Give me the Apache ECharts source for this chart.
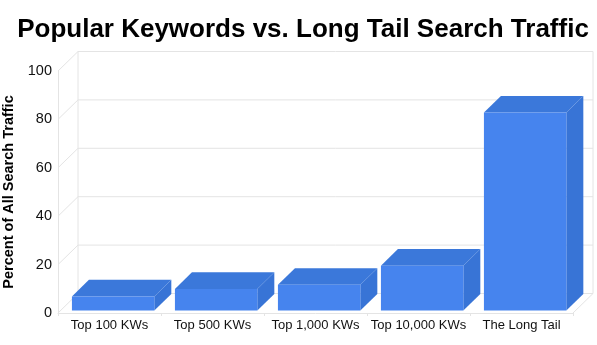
<!DOCTYPE html>
<html><head><meta charset="utf-8">
<script src="https://cdn.jsdelivr.net/npm/echarts@6/dist/echarts.min.js"></script>
<style>html,body{margin:0;padding:0;background:#fff}#c{width:597px;height:345px}</style>
</head><body><div id="c"></div>
<script>
const categories = ['Top 100 KWs', 'Top 500 KWs', 'Top 1,000 KWs', 'Top 10,000 KWs', 'The Long Tail'];
const values = [5.8, 8.9, 10.6, 18.5, 81.8];
const yTicks = [0, 20, 40, 60, 80, 100];
const titleText = 'Popular Keywords vs. Long Tail Search Traffic';
const yName = 'Percent of All Search Traffic';

const DX = 20, DY = -19.5;      // depth offset of back wall
const F1 = 0.13, F2 = 0.98;     // bar depth (front/back fractions)
const WALL = '#e4e4e4';
const FRONT = '#4684ee', TOP = '#3b78da', SIDE = '#3874d6';
const FONT = '"Liberation Sans", Arial, sans-serif';

const chart = echarts.init(document.getElementById('c'), null, {renderer: 'canvas'});

function wallsRender(params, api) {
  const n = categories.length;
  const bw = api.size([1, 0])[0];
  const x0 = api.coord([0, 0])[0] - bw / 2;
  const x1 = api.coord([n - 1, 0])[0] + bw / 2;
  const ls = {stroke: WALL, lineWidth: 1};
  const ch = [];
  yTicks.forEach(function (v) {
    const y = api.coord([0, v])[1];
    ch.push({type: 'line', shape: {x1: x0 + DX, y1: y + DY, x2: x1 + DX, y2: y + DY}, style: ls});
    ch.push({type: 'line', shape: {x1: x0, y1: y, x2: x0 + DX, y2: y + DY}, style: ls});
  });
  const yb = api.coord([0, yTicks[0]])[1];
  const yt = api.coord([0, yTicks[yTicks.length - 1]])[1];
  ch.push({type: 'line', shape: {x1: x0 + DX, y1: yb + DY, x2: x0 + DX, y2: yt + DY}, style: ls});
  ch.push({type: 'line', shape: {x1: x1 + DX, y1: yb + DY, x2: x1 + DX, y2: yt + DY}, style: ls});
  ch.push({type: 'line', shape: {x1: x1, y1: yb, x2: x1 + DX, y2: yb + DY}, style: ls});
  return {type: 'group', children: ch, silent: true};
}

function barRender(params, api) {
  const idx = api.value(0);
  const val = api.value(1);
  const bw = api.size([1, 0])[0];
  const xc = api.coord([idx, 0])[0] + bw * 0.01;
  const yb = api.coord([idx, 0])[1];
  const yt = api.coord([idx, val])[1];
  const L = xc - bw * 0.40, R = xc + bw * 0.40;
  const a = DX * F1, b = DY * F1, c = DX * F2, d = DY * F2;
  return {type: 'group', children: [
    {type: 'polygon', shape: {points: [[R + a, yt + b], [R + c, yt + d], [R + c, yb + d], [R + a, yb + b]]},
      style: {fill: SIDE}},
    {type: 'polygon', shape: {points: [[L + a, yt + b], [R + a, yt + b], [R + c, yt + d], [L + c, yt + d]]},
      style: {fill: TOP}},
    {type: 'rect', shape: {x: L + a, y: yt + b, width: R - L, height: yb - yt},
      style: {fill: FRONT}}
  ]};
}

chart.setOption({
  animation: false,
  backgroundColor: '#fff',
  title: {
    text: titleText, left: 298, textAlign: 'center', top: 12,
    textStyle: {fontFamily: FONT, fontWeight: 'bold', fontSize: 26, color: '#000'}
  },
  grid: {left: 58, right: 24, top: 71, bottom: 32, containLabel: false, outerBoundsMode: 'none'},
  xAxis: {
    type: 'category', data: categories,
    axisLine: {show: true, lineStyle: {color: WALL}},
    axisTick: {show: true, length: 3, lineStyle: {color: WALL}},
    axisLabel: {interval: 0, fontFamily: FONT, fontSize: 13, color: '#111', margin: 6},
    splitLine: {show: false}
  },
  yAxis: {
    type: 'value', min: yTicks[0], max: yTicks[yTicks.length - 1], interval: 20,
    name: yName, nameLocation: 'middle', nameGap: 40, nameRotate: 90,
    nameTextStyle: {fontFamily: FONT, fontWeight: 'bold', fontSize: 14.5, color: '#000'},
    axisLine: {show: true, lineStyle: {color: WALL}},
    axisTick: {show: false},
    axisLabel: {fontFamily: FONT, fontSize: 14.5, color: '#111', margin: 6},
    splitLine: {show: false}
  },
  series: [
    {type: 'custom', renderItem: wallsRender, data: [[0, 0]], silent: true, z: 1},
    {type: 'custom', renderItem: barRender, data: values.map(function (v, i) { return [i, v]; }), z: 2}
  ]
});
</script></body></html>
